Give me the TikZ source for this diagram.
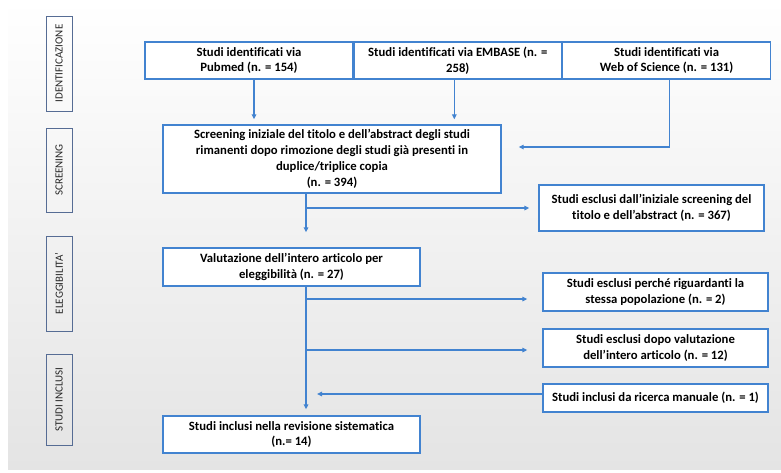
\documentclass[tikz,border=0pt]{standalone}
\usepackage{fontspec}
\setmainfont{Carlito}[Ligatures=NoCommon]
\usetikzlibrary{arrows.meta,positioning,calc}
\definecolor{flowblue}{RGB}{66,131,208}
\definecolor{tagframe}{RGB}{86,108,148}
\definecolor{backgray}{RGB}{228,228,228}

\begin{document}
\begin{tikzpicture}[
    x=1pt, y=-1pt,
    block/.style={rectangle, draw=flowblue, line width=1.3pt, fill=white, align=center, inner sep=0pt, font=\fontsize{12.7}{15.8}\selectfont\bfseries},
    phase/.style={rectangle, draw=tagframe, line width=1pt, rotate=90, minimum height=26pt, inner sep=0pt, font=\fontsize{11}{12}\selectfont, text=black!85},
    arrow/.style={-{Triangle[length=5pt, width=4.5pt]}, line width=1.3pt, flowblue},
]
\useasboundingbox (0,0) rectangle (781,472);
\shade[top color=white, bottom color=backgray] (8,0) rectangle (781,469);

% fasi
\node[phase, minimum width=95pt] (tag_id) at (59,63.5) {IDENTIFICAZIONE};
\node[phase, minimum width=84pt] (tag_scr) at (59,170) {SCREENING};
\node[phase, minimum width=95pt] (tag_el) at (59,283.5) {ELEGGIBILITA’};
\node[phase, minimum width=91pt] (tag_inc) at (59,399.5) {STUDI INCLUSI};

% identificazione
\node[block, minimum width=208pt, minimum height=37pt] (pubmed) at (249,60.5) {Studi identificati via\\Pubmed (n. = 154)};
\node[block, minimum width=207pt, minimum height=37pt, right=0pt of pubmed] (embase) {Studi identificati via EMBASE (n. =\\258)};
\node[block, minimum width=208pt, minimum height=37pt, right=0pt of embase] (wos) {Studi identificati via\\Web of Science (n. = 131)};

% screening
\node[block, minimum width=338pt, minimum height=68pt] (screen) at (332,159) {Screening iniziale del titolo e dell’abstract degli studi\\rimanenti dopo rimozione degli studi già presenti in\\duplice/triplice copia\\(n. = 394)};
\node[block, minimum width=225pt, minimum height=46pt] (excl1) at (651.5,208) {Studi esclusi dall’iniziale screening del\\titolo e dell’abstract (n. = 367)};

% eleggibilita
\node[block, minimum width=257pt, minimum height=38pt] (valut) at (291.5,267) {Valutazione dell’intero articolo per\\eleggibilità (n. = 27)};
\node[block, minimum width=225pt, minimum height=38pt] (excl2) at (655.5,292) {Studi esclusi perché riguardanti la\\stessa popolazione (n. = 2)};
\node[block, minimum width=225pt, minimum height=38pt] (excl3) at (655.5,348) {Studi esclusi dopo valutazione\\dell’intero articolo (n. = 12)};
\node[block, minimum width=225pt, minimum height=28pt] (manual) at (655.5,398) {Studi inclusi da ricerca manuale (n. = 1)};

% inclusi
\node[block, minimum width=257pt, minimum height=37pt] (final) at (291.5,434.5) {Studi inclusi nella revisione sistematica\\(n.= 14)};

\coordinate (trunk) at (306,0);

\draw[arrow] ($(pubmed.south)+(5,0)$) -- ($(pubmed.south |- screen.north)+(5,-5)$);
\draw[arrow] ($(embase.south)+(-3.5,0)$) -- ($(embase.south |- screen.north)+(-3.5,-5)$);
\draw[arrow] ($(wos.south)+(3,0)$) |- ($(screen.east)+(17,-12)$);

\draw[arrow] (screen.south -| trunk) -- ($(valut.north -| trunk)+(0,-15)$);
\draw[arrow] (excl1.west -| trunk) -- ($(excl1.west)+(-9,0)$);

\draw[arrow] (valut.south -| trunk) -- ($(final.north -| trunk)+(0,-6)$);
\draw[arrow] ($(excl2.west -| trunk)+(0,7)$) -- ($(excl2.west)+(-15,7)$);
\draw[arrow] ($(excl3.west -| trunk)+(0,2)$) -- ($(excl3.west)+(-15,2)$);
\draw[arrow] ($(manual.west)+(0,-4)$) -- ($(manual.west -| trunk)+(11,-4)$);
\end{tikzpicture}
\end{document}
